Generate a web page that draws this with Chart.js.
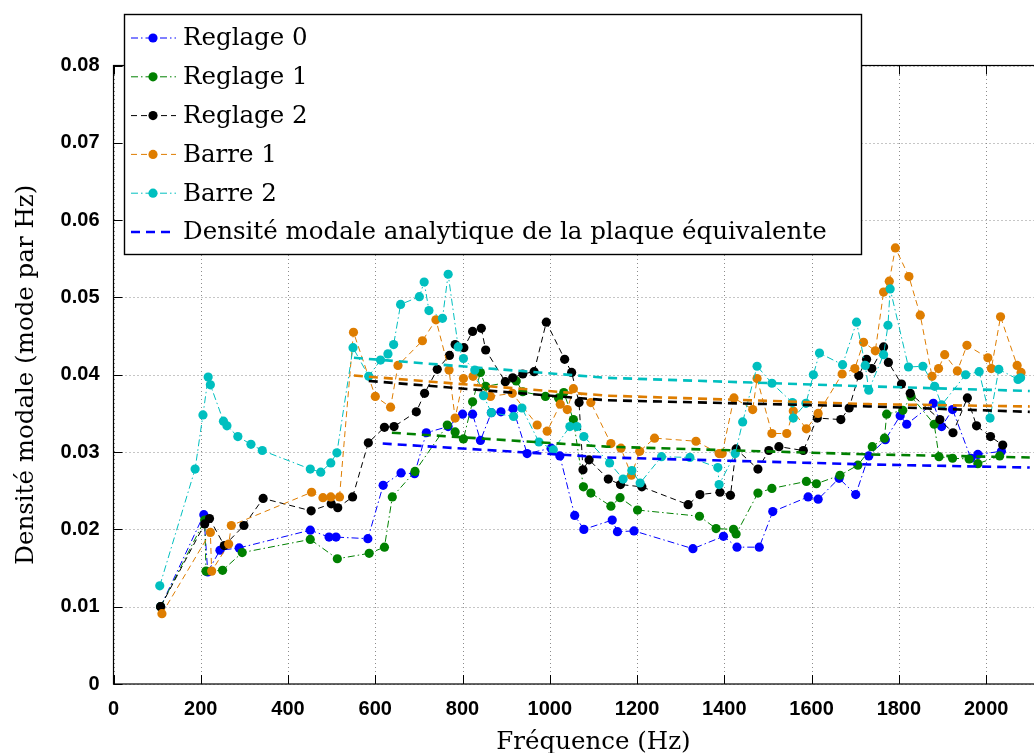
<!DOCTYPE html>
<html>
<head>
<meta charset="utf-8">
<script src="https://cdn.jsdelivr.net/npm/chart.js@4"></script>
<style>
  html, body { margin: 0; padding: 0; background: #fff; overflow: hidden; }
  canvas { display: block; }
</style>
</head>
<body>
<canvas id="densityChart" width="1078" height="753"></canvas>
<script>
// Measured modal density (modes per Hz) against frequency (Hz)
const reglage0Freq = [108, 207, 216, 244, 288, 451, 494, 510, 583, 618, 659, 690, 717, 767, 800, 823, 841, 866, 888, 916,
  948, 1003, 1023, 1057, 1078, 1143, 1155, 1193, 1328, 1398, 1429, 1480, 1511, 1592, 1615, 1663, 1701, 1731, 1769, 1803,
  1818, 1879, 1898, 1923, 1965, 1981, 2035];
const reglage0Dens = [0.0100, 0.0219, 0.0145, 0.0173, 0.0176, 0.0199, 0.0190, 0.0190, 0.0188, 0.0257, 0.0273, 0.0272, 0.0325, 0.0333, 0.0349, 0.0349, 0.0315, 0.0351, 0.0352, 0.0356,
  0.0298, 0.0305, 0.0295, 0.0218, 0.0200, 0.0212, 0.0197, 0.0198, 0.0175, 0.0191, 0.0177, 0.0177, 0.0223, 0.0242, 0.0239, 0.0266, 0.0245, 0.0295, 0.0316, 0.0347,
  0.0336, 0.0363, 0.0333, 0.0355, 0.0292, 0.0297, 0.0301];

const reglage1Freq = [108, 209, 212, 250, 295, 451, 513, 586, 621, 639, 691, 765, 783, 802, 823, 841, 853, 923, 938, 990,
  1020, 1032, 1054, 1077, 1094, 1140, 1161, 1201, 1343, 1381, 1421, 1427, 1477, 1509, 1588, 1611, 1665, 1706, 1739, 1767,
  1772, 1809, 1828, 1881, 1892, 1923, 1961, 1981, 2031];
const reglage1Dens = [0.0100, 0.0212, 0.0146, 0.0147, 0.0170, 0.0187, 0.0162, 0.0169, 0.0177, 0.0242, 0.0275, 0.0335, 0.0326, 0.0317, 0.0365, 0.0403, 0.0385, 0.0392, 0.0378, 0.0372,
  0.0370, 0.0377, 0.0342, 0.0255, 0.0247, 0.0230, 0.0241, 0.0225, 0.0217, 0.0201, 0.0200, 0.0194, 0.0247, 0.0253, 0.0262, 0.0259, 0.0270, 0.0283, 0.0307, 0.0318,
  0.0349, 0.0354, 0.0372, 0.0336, 0.0294, 0.0292, 0.0291, 0.0285, 0.0295];

const reglage2Freq = [108, 209, 220, 254, 299, 343, 453, 499, 514, 548, 584, 621, 643, 694, 713, 742, 770, 783, 803, 823,
  843, 853, 898, 915, 938, 964, 992, 1034, 1050, 1067, 1076, 1090, 1134, 1162, 1211, 1317, 1344, 1390, 1414, 1427,
  1477, 1502, 1525, 1581, 1613, 1667, 1686, 1708, 1726, 1738, 1765, 1776, 1806, 1826, 1894, 1924, 1957, 1978, 2010, 2038];
const reglage2Dens = [0.0100, 0.0207, 0.0214, 0.0179, 0.0205, 0.0240, 0.0224, 0.0233, 0.0228, 0.0242, 0.0312, 0.0332, 0.0333, 0.0352, 0.0376, 0.0407, 0.0425, 0.0439, 0.0435, 0.0456,
  0.0460, 0.0432, 0.0391, 0.0396, 0.0401, 0.0404, 0.0468, 0.0420, 0.0403, 0.0364, 0.0277, 0.0290, 0.0265, 0.0258, 0.0255, 0.0232, 0.0245, 0.0248, 0.0244, 0.0304,
  0.0278, 0.0302, 0.0307, 0.0302, 0.0344, 0.0342, 0.0357, 0.0399, 0.0420, 0.0408, 0.0436, 0.0416, 0.0388, 0.0376, 0.0342, 0.0325, 0.0370, 0.0334, 0.0320, 0.0309];

const barre1Freq = [111, 222, 225, 264, 270, 454, 480, 498, 518, 550, 600, 635, 652, 708, 739, 769, 783, 802, 824, 864,
  914, 971, 994, 1024, 1040, 1054, 1094, 1140, 1163, 1187, 1206, 1240, 1335, 1388, 1395, 1422, 1465, 1475, 1509, 1543,
  1558, 1588, 1615, 1670, 1699, 1719, 1746, 1765, 1778, 1792, 1823, 1849, 1876, 1891, 1905, 1934, 1956, 2004, 2012, 2033,
  2071, 2080];
const barre1Dens = [0.0091, 0.0196, 0.0146, 0.0181, 0.0205, 0.0248, 0.0241, 0.0242, 0.0242, 0.0455, 0.0372, 0.0358, 0.0412, 0.0444, 0.0471, 0.0406, 0.0344, 0.0395, 0.0398, 0.0372,
  0.0376, 0.0335, 0.0327, 0.0362, 0.0355, 0.0382, 0.0364, 0.0311, 0.0305, 0.0270, 0.0301, 0.0318, 0.0314, 0.0298, 0.0298, 0.0370, 0.0355, 0.0395, 0.0324, 0.0324,
  0.0353, 0.0330, 0.0350, 0.0401, 0.0408, 0.0442, 0.0431, 0.0507, 0.0521, 0.0564, 0.0527, 0.0477, 0.0398, 0.0408, 0.0426, 0.0405, 0.0438, 0.0422, 0.0408, 0.0475,
  0.0412, 0.0403];

const barre2Freq = [106, 187, 205, 217, 222, 252, 260, 285, 315, 341, 451, 475, 498, 512, 549, 585, 612, 629, 642, 658,
  701, 712, 723, 754, 767, 790, 802, 828, 848, 866, 917, 936, 975, 1008, 1046, 1062, 1078, 1137, 1168, 1188,
  1207, 1256, 1321, 1385, 1388, 1425, 1442, 1475, 1509, 1556, 1558, 1587, 1604, 1618, 1671, 1703, 1723, 1731, 1765, 1775,
  1780, 1822, 1855, 1882, 1898, 1953, 1984, 2009, 2029, 2073, 2079];
const barre2Dens = [0.0127, 0.0278, 0.0348, 0.0397, 0.0387, 0.0340, 0.0334, 0.0320, 0.0310, 0.0302, 0.0278, 0.0274, 0.0286, 0.0299, 0.0435, 0.0398, 0.0419, 0.0427, 0.0439, 0.0491,
  0.0501, 0.0520, 0.0483, 0.0473, 0.0530, 0.0436, 0.0421, 0.0406, 0.0373, 0.0351, 0.0346, 0.0357, 0.0313, 0.0303, 0.0333, 0.0333, 0.0320, 0.0286, 0.0265, 0.0276,
  0.0260, 0.0294, 0.0293, 0.0280, 0.0258, 0.0298, 0.0339, 0.0411, 0.0389, 0.0364, 0.0344, 0.0363, 0.0400, 0.0428, 0.0413, 0.0468, 0.0412, 0.0380, 0.0426, 0.0464,
  0.0511, 0.0410, 0.0411, 0.0385, 0.0361, 0.0400, 0.0404, 0.0344, 0.0407, 0.0394, 0.0396];

// analytic density of the equivalent plate, one curve per setup
const analyticFreqR0 = [617, 1130, 1730, 2100];
const analyticDensR0 = [0.0311, 0.0293, 0.0284, 0.0280];
const analyticFreqR1 = [638, 1130, 1730, 2100];
const analyticDensR1 = [0.0325, 0.0307, 0.0297, 0.0293];
const analyticFreqR2 = [585, 1130, 1730, 2100];
const analyticDensR2 = [0.0392, 0.0367, 0.0359, 0.0352];
const analyticFreqB1 = [551, 1130, 1730, 2100];
const analyticDensB1 = [0.0399, 0.0373, 0.0362, 0.0359];
const analyticFreqB2 = [551, 1130, 1730, 2100];
const analyticDensB2 = [0.0422, 0.0396, 0.0385, 0.0379];

const xTicks = [0, 200, 400, 600, 800, 1000, 1200, 1400, 1600, 1800, 2000, 2200];
const yTicks = [0, 0.01, 0.02, 0.03, 0.04, 0.05, 0.06, 0.07, 0.08];

const BLUE = '#0000ff', GREEN = '#008000', BLACK = '#000000', ORANGE = '#de7d00', CYAN = '#00bfbf';
const SERIF = '"DejaVu Serif"';
const dashDot = [7, 3, 1.5, 3];
const dashed = [6, 4];

function toPoints(freqs, vals) {
  return freqs.map((f, i) => ({ x: f, y: vals[i] }));
}

function measured(label, freqs, vals, color, dash, order) {
  return {
    label: label, data: toPoints(freqs, vals), inLegend: true,
    borderColor: color, backgroundColor: color, borderWidth: 1, borderDash: dash,
    pointRadius: 4.6, pointBorderWidth: 0, pointBackgroundColor: color,
    order: order
  };
}

function analytic(label, freqs, vals, color, inLegend) {
  return {
    label: label, data: toPoints(freqs, vals), inLegend: inLegend,
    borderColor: color, backgroundColor: color, borderWidth: 2.6, borderDash: [9, 6],
    pointRadius: 0, order: 0
  };
}

const datasets = [
  measured('Reglage 0', reglage0Freq, reglage0Dens, BLUE, dashDot, 10),
  measured('Reglage 1', reglage1Freq, reglage1Dens, GREEN, dashDot, 9),
  measured('Reglage 2', reglage2Freq, reglage2Dens, BLACK, dashed, 8),
  measured('Barre 1', barre1Freq, barre1Dens, ORANGE, dashed, 7),
  measured('Barre 2', barre2Freq, barre2Dens, CYAN, dashDot, 6),
  analytic('Densité modale analytique de la plaque équivalente', analyticFreqR0, analyticDensR0, BLUE, true),
  analytic('analytique Reglage 1', analyticFreqR1, analyticDensR1, GREEN, false),
  analytic('analytique Reglage 2', analyticFreqR2, analyticDensR2, BLACK, false),
  analytic('analytique Barre 1', analyticFreqB1, analyticDensB1, ORANGE, false),
  analytic('analytique Barre 2', analyticFreqB2, analyticDensB2, CYAN, false)
];

// dotted grid + frame round the axes with small inward ticks, like matlab
const framePlugin = {
  id: 'frame',
  beforeDatasetsDraw(chart) {
    const { ctx, chartArea: a, scales } = chart;
    ctx.save();
    ctx.strokeStyle = '#8c8c8c';
    ctx.lineWidth = 1;
    ctx.setLineDash([1, 3]);
    ctx.beginPath();
    xTicks.forEach(v => {
      const px = Math.round(scales.x.getPixelForValue(v)) + 0.5;
      ctx.moveTo(px, a.bottom); ctx.lineTo(px, a.top);
    });
    yTicks.forEach(v => {
      const py = Math.round(scales.y.getPixelForValue(v)) + 0.5;
      ctx.moveTo(a.left, py); ctx.lineTo(a.right, py);
    });
    ctx.stroke();
    ctx.restore();
  },
  afterDatasetsDraw(chart) {
    const { ctx, chartArea: a, scales } = chart;
    ctx.save();
    ctx.strokeStyle = '#000';
    ctx.lineWidth = 1.2;
    ctx.setLineDash([]);
    ctx.strokeRect(a.left, a.top, a.right - a.left, a.bottom - a.top);
    ctx.lineWidth = 1;
    ctx.beginPath();
    xTicks.forEach(v => {
      const px = Math.round(scales.x.getPixelForValue(v)) + 0.5;
      ctx.moveTo(px, a.bottom); ctx.lineTo(px, a.bottom - 9);
      ctx.moveTo(px, a.top); ctx.lineTo(px, a.top + 9);
    });
    yTicks.forEach(v => {
      const py = Math.round(scales.y.getPixelForValue(v)) + 0.5;
      ctx.moveTo(a.left, py); ctx.lineTo(a.left + 9, py);
      ctx.moveTo(a.right, py); ctx.lineTo(a.right - 9, py);
    });
    ctx.stroke();
    ctx.restore();
  }
};

const legendPlugin = {
  id: 'boxLegend',
  afterDraw(chart) {
    const ctx = chart.ctx;
    const items = chart.data.datasets.filter(d => d.inLegend);
    ctx.save();
    ctx.fillStyle = '#fff';
    ctx.fillRect(124.5, 14.5, 737, 240);
    ctx.strokeStyle = '#000';
    ctx.lineWidth = 1.4;
    ctx.strokeRect(124.5, 14.5, 737, 240);
    ctx.font = '24.5px ' + SERIF;
    ctx.textBaseline = 'middle';
    items.forEach((d, i) => {
      const y = 38 + i * 38.8;
      ctx.strokeStyle = d.borderColor;
      ctx.lineWidth = d.borderWidth;
      ctx.setLineDash(d.borderDash);
      ctx.beginPath();
      ctx.moveTo(131, y);
      ctx.lineTo(176, y);
      ctx.stroke();
      ctx.setLineDash([]);
      if (d.pointRadius > 0) {
        ctx.fillStyle = d.borderColor;
        ctx.beginPath();
        ctx.arc(153, y, d.pointRadius, 0, Math.PI * 2);
        ctx.fill();
      }
      ctx.fillStyle = '#000';
      ctx.fillText(d.label, 183, y + 1);
    });
    ctx.restore();
  }
};

new Chart(document.getElementById('densityChart'), {
  type: 'line',
  data: { datasets: datasets },
  plugins: [framePlugin, legendPlugin],
  options: {
    responsive: false,
    animation: false,
    layout: { padding: { top: 65.5, left: 0, right: 0, bottom: 0 } },
    plugins: { legend: { display: false }, tooltip: { enabled: false } },
    elements: { line: { tension: 0, fill: false } },
    scales: {
      x: {
        type: 'linear', min: 0, max: 2200,
        afterBuildTicks: s => { s.ticks = xTicks.map(v => ({ value: v })); },
        afterFit: s => { s.height = 69; s.paddingLeft = 0; s.paddingRight = 0; },
        ticks: {
          autoSkip: false, maxRotation: 0, padding: 5, color: '#000',
          font: { family: '"Liberation Sans"', size: 20, weight: 'bold' },
          callback: v => String(v)
        },
        grid: { display: false },
        border: { display: false },
        title: {
          display: true, text: 'Fréquence (Hz)', color: '#000',
          font: { family: SERIF, size: 24.5, lineHeight: 1 },
          padding: { top: 0, bottom: -2 }
        }
      },
      y: {
        type: 'linear', min: 0, max: 0.08,
        afterBuildTicks: s => { s.ticks = yTicks.map(v => ({ value: v })); },
        afterFit: s => { s.width = 113.5; },
        ticks: {
          padding: 6, color: '#000',
          font: { family: '"Liberation Sans"', size: 20, weight: 'bold' },
          callback: v => v === 0 ? '0' : v.toFixed(2)
        },
        grid: { display: false },
        border: { display: false },
        title: {
          display: true, text: 'Densité modale (mode par Hz)', color: '#000',
          font: { family: SERIF, size: 24.5, lineHeight: 1 },
          padding: { top: 14, bottom: 0 }
        }
      }
    }
  }
});
</script>
</body>
</html>
